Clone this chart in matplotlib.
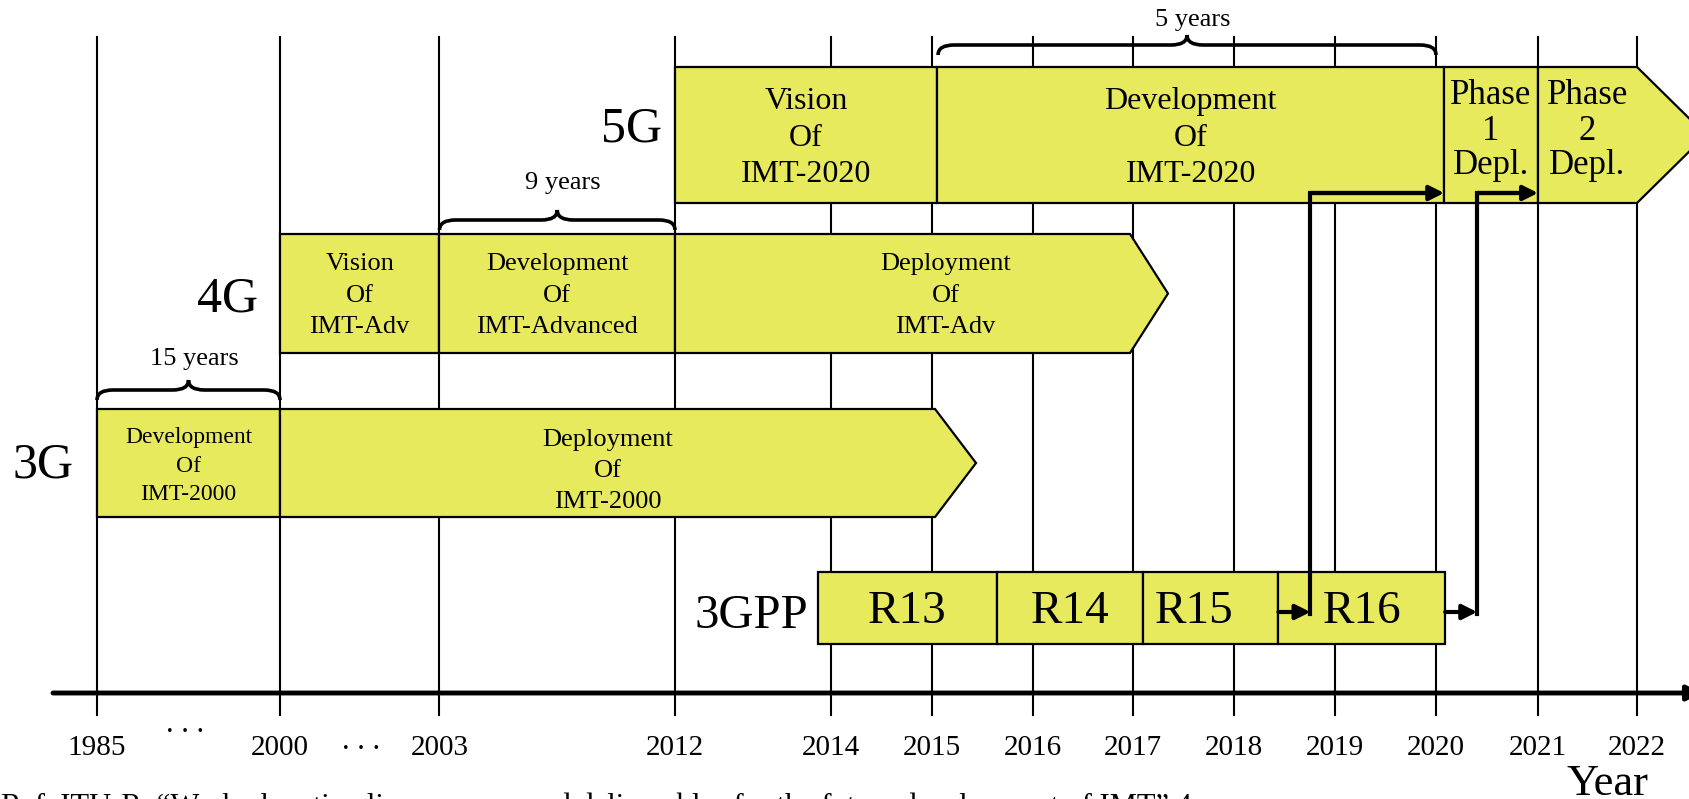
import matplotlib
matplotlib.use('Agg')
import matplotlib.pyplot as plt
from matplotlib.patches import Polygon, PathPatch
from matplotlib.path import Path
import numpy as np

plt.rcParams['font.family'] = ['Liberation Serif', 'DejaVu Serif']

### DATA ###

# timeline ticks (the axis is not linear in the original figure)
tick_years = [1985, 2000, 2003, 2012, 2014, 2015, 2016, 2017, 2018, 2019, 2020, 2021, 2022]

# 3G / 4G / 5G phases: start year, end year, label
g3_starts = [1985, 2000]
g3_ends = [2000, 2015.03]
g3_labels = ['Development\nOf\nIMT-2000', 'Deployment\nOf\nIMT-2000']

g4_starts = [2000, 2003, 2012]
g4_ends = [2003, 2012, 2016.97]
g4_labels = ['Vision\nOf\nIMT-Adv', 'Development\nOf\nIMT-Advanced', 'Deployment\nOf\nIMT-Adv']

g5_starts = [2012, 2015.05, 2020.08, 2021]
g5_ends = [2015.05, 2020.08, 2021, 2022]
g5_labels = ['Vision\nOf\nIMT-2020', 'Development\nOf\nIMT-2020', 'Phase\n1\nDepl.', 'Phase\n2\nDepl.']

# 3GPP releases
rel_starts = [2013.83, 2015.64, 2017.1, 2018.44]
rel_ends = [2015.64, 2017.1, 2018.44, 2020.09]
rel_labels = ['R13', 'R14', 'R15', 'R16']

# duration braces
brace_starts = [1985, 2003, 2015.06]
brace_ends = [2000, 2012, 2020]
brace_labels = ['15 years', '9 years', '5 years']

### LAYOUT ###
tick_px = [97, 280, 439.5, 675, 831, 932, 1033, 1133, 1234, 1335, 1436, 1538, 1637]


def X(year):
    return float(np.interp(year, tick_years, tick_px))


YELLOW = '#E8EA5E'

fig = plt.figure(figsize=(16.89, 7.99), dpi=100)
ax = fig.add_axes([0, 0, 1, 1])
ax.set_xlim(0, 1689)
ax.set_ylim(799, 0)
ax.axis('off')

# vertical year lines
for p in tick_px:
    ax.plot([p, p], [37, 715], color='black', lw=1.5, zorder=1)

# time axis with arrow
ax.annotate('', xy=(1702, 693), xytext=(53, 693), annotation_clip=False,
            arrowprops=dict(arrowstyle='-|>', lw=3.5, color='black',
                            mutation_scale=22, shrinkA=0, shrinkB=0), zorder=2)

for yr, p in zip(tick_years, tick_px):
    ax.text(p, 755, str(yr), ha='center', va='baseline', fontsize=21)
ax.text(185, 732, '. . .', ha='center', va='baseline', fontsize=22)
ax.text(361, 749, '. . .', ha='center', va='baseline', fontsize=22)
ax.text(1608, 795, 'Year', ha='center', va='baseline', fontsize=32)


def draw_row(starts, ends, labels, top, bot, head, fsizes, lsps, text_dx=None, text_dy=None):
    n = len(starts)
    mid = (top + bot) / 2
    for i in range(n):
        x0, x1 = X(starts[i]), X(ends[i])
        if i == n - 1 and head > 0:
            pts = [(x0, top), (x1, top), (x1 + head, mid), (x1, bot), (x0, bot)]
        else:
            pts = [(x0, top), (x1, top), (x1, bot), (x0, bot)]
        ax.add_patch(Polygon(pts, closed=True, facecolor=YELLOW, edgecolor='black',
                             lw=1.6, zorder=3, joinstyle='miter'))
        dx = text_dx[i] if text_dx else 0
        dy = text_dy[i] if text_dy else 0
        ax.text((x0 + x1) / 2 + dx, mid + dy, labels[i], ha='center', va='center',
                fontsize=fsizes[i], linespacing=lsps[i], zorder=5)


draw_row(g3_starts, g3_ends, g3_labels, 409, 517, 41, [17, 19], [1.44, 1.55], text_dy=[3, 8])
draw_row(g4_starts, g4_ends, g4_labels, 234, 353, 38, [19, 19, 19], [1.55] * 3,
         text_dx=[0, 0, 43], text_dy=[2, 2, 2])
draw_row(g5_starts[:2], g5_ends[:2], g5_labels[:2], 67, 203, 0, [23, 23], [1.35, 1.35], text_dy=[3, 3])
draw_row(g5_starts[2:], g5_ends[2:], g5_labels[2:], 67, 203, 69, [25, 25], [1.08, 1.08], text_dy=[-4, -4])
draw_row(rel_starts, rel_ends, rel_labels, 572, 644, 0, [34] * 4, [1.2] * 4,
         text_dx=[0, 0, -17, 0], text_dy=[4] * 4)

# generation labels
ax.text(632, 142, '5G', ha='center', va='baseline', fontsize=36)
ax.text(228, 311, '4G', ha='center', va='baseline', fontsize=36)
ax.text(43, 478, '3G', ha='center', va='baseline', fontsize=36)
ax.text(751, 628, '3GPP', ha='center', va='baseline', fontsize=35)


# braces
def draw_brace(x0, x1, y_end, depth=10, r=16):
    yb = y_end - depth
    yt = yb - depth
    xm = (x0 + x1) / 2
    verts = [(x0, y_end), (x0, yb), (x0 + r, yb), (xm - r, yb), (xm, yb), (xm, yt),
             (xm, yb), (xm + r, yb), (x1 - r, yb), (x1, yb), (x1, y_end)]
    codes = [Path.MOVETO, Path.CURVE3, Path.CURVE3, Path.LINETO, Path.CURVE3, Path.CURVE3,
             Path.CURVE3, Path.CURVE3, Path.LINETO, Path.CURVE3, Path.CURVE3]
    ax.add_patch(PathPatch(Path(verts, codes), facecolor='none', edgecolor='black',
                           lw=2.6, zorder=4))


brace_y = [400, 230, 55]
brace_text_y = [359, 183, 20]
for s, e, lab, yb, yt in zip(brace_starts, brace_ends, brace_labels, brace_y, brace_text_y):
    draw_brace(X(s), X(e), yb)
    ax.text((X(s) + X(e)) / 2 + 6, yt, lab, ha='center', va='center', fontsize=19)

# 3GPP release -> 5G deployment phase connectors
for rel_end, ph_start in [(rel_ends[2], g5_starts[2]), (rel_ends[3], g5_starts[3])]:
    xa = X(rel_end)
    xv = xa + 32
    xb = X(ph_start)
    ax.annotate('', xy=(xv, 612), xytext=(xa, 612),
                arrowprops=dict(arrowstyle='-|>', lw=3, color='black',
                                mutation_scale=22, shrinkA=0, shrinkB=0), zorder=6)
    ax.plot([xv, xv, xb - 10], [614, 193, 193], color='black', lw=3,
            solid_joinstyle='miter', zorder=6)
    ax.annotate('', xy=(xb, 193), xytext=(xv, 193),
                arrowprops=dict(arrowstyle='-|>', lw=3, color='black',
                                mutation_scale=22, shrinkA=0, shrinkB=0), zorder=6)

# reference line, cut off at the bottom edge as in the original
ax.text(1192, 815, 'Ref. ITU-R, \u201cWork plan, timeline, process and deliverables for the future development of IMT\u201d 4',
        ha='right', va='baseline', fontsize=22)

fig.savefig('out.png', dpi=100)
